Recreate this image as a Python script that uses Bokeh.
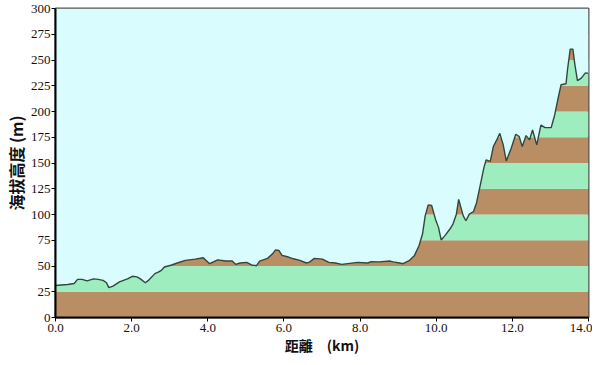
from bokeh.plotting import figure
from bokeh.embed import file_html
from bokeh.resources import INLINE
from bokeh.models import FixedTicker, NumeralTickFormatter, Range1d, ColumnDataSource

# distance (km) and elevation (m) along the route
dist = [0.0, 0.15, 0.32, 0.49, 0.58, 0.70, 0.83, 1.0, 1.12, 1.25, 1.34, 1.40, 1.51, 1.68, 1.89,
        2.02, 2.14, 2.23, 2.36, 2.44, 2.61, 2.70, 2.78, 2.86, 3.03, 3.20, 3.41, 3.67, 3.88, 3.95,
        4.05, 4.26, 4.47, 4.64, 4.73, 4.85, 5.02, 5.15, 5.28, 5.36, 5.57, 5.70, 5.78, 5.87, 5.95,
        6.12, 6.25, 6.42, 6.59, 6.67, 6.80, 7.01, 7.18, 7.35, 7.52, 7.94, 8.20, 8.28, 8.50, 8.79,
        8.87, 9.04, 9.13, 9.30, 9.43, 9.55, 9.64, 9.71, 9.79, 9.88, 9.98, 10.06, 10.13, 10.23,
        10.36, 10.44, 10.53, 10.59, 10.65, 10.71, 10.78, 10.87, 10.98, 11.06, 11.16, 11.25, 11.31,
        11.42, 11.50, 11.59, 11.67, 11.76, 11.84, 11.97, 12.09, 12.18, 12.26, 12.36, 12.45, 12.53,
        12.64, 12.75, 12.86, 13.02, 13.11, 13.19, 13.28, 13.41, 13.45, 13.52, 13.59, 13.64, 13.71,
        13.81, 13.92, 14.0]
elev = [31, 31.5, 32, 33, 37, 37, 35.5, 37.5, 37, 36, 33.7, 29, 30.5, 34.6, 37.5,
        40, 39.4, 37.5, 33.7, 36, 42.6, 44, 45.8, 49, 50.7, 52.9, 55.5, 56.7, 58, 55.5,
        52.2, 56, 54.8, 54.8, 51.6, 52.9, 53.5, 51, 50.3, 54.8, 57.4, 61.8, 65.7, 65, 60.3,
        58.7, 57, 55.5, 52.9, 53.8, 57.4, 56.7, 53.5, 52.9, 51.6, 53.5, 52.9, 54.1, 54, 54.8,
        54, 52.9, 52.2, 55.5, 60.3, 69.9, 81, 98.7, 109.3, 108.7, 95.5, 87.5, 75.3, 79.5,
        85.9, 90.7, 100.3, 114.7, 106.7, 98.7, 93.9, 100.3, 102.9, 111.5, 129, 145, 153,
        151.6, 166, 172.4, 178.8, 167.6, 152, 164.4, 177.9, 175.6, 166, 176.6, 172.4, 182,
        167.6, 186.8, 184.3, 184.3, 196.4, 210.9, 226, 227, 241, 260.6, 260.6, 246, 230,
        232.4, 237.5, 237]

# elevation bands
band_lo = [0, 25, 50, 75, 100, 125, 150, 175, 200, 225, 250]
band_hi = [25, 50, 75, 100, 125, 150, 175, 200, 225, 250, 275]
x_ticks = [0, 2, 4, 6, 8, 10, 12, 14]
y_ticks = [0, 25, 50, 75, 100, 125, 150, 175, 200, 225, 250, 275, 300]

SKY = "#D9FCFE"
BROWN = "#BA8E64"
GREEN = "#9DEDBF"
band_col = [BROWN if i % 2 == 0 else GREEN for i in range(len(band_lo))]

p = figure(width=592, height=357, output_backend="svg", toolbar_location=None,
           x_range=Range1d(0, 14), y_range=Range1d(0, 300),
           min_border_left=30, min_border_right=4, min_border_top=8, min_border_bottom=38)
p.background_fill_color = SKY
p.border_fill_color = "white"
p.outline_line_color = "#555555"
p.outline_line_width = 2
p.xgrid.visible = False
p.ygrid.visible = False

bands = ColumnDataSource(dict(bottom=band_lo, top=band_hi, color=band_col,
                              left=[0] * len(band_lo), right=[14] * len(band_lo)))
p.quad(left="left", right="right", bottom="bottom", top="top", fill_color="color",
       line_color=None, source=bands)

prof = ColumnDataSource(dict(x=dist, y=elev, top=[300] * len(dist)))
p.varea(x="x", y1="y", y2="top", fill_color=SKY, source=prof)
p.line(x="x", y="y", line_color="#34463C", line_width=1.4, source=prof)

tick_font = "Liberation Serif"
for ax in (p.xaxis[0], p.yaxis[0]):
    ax.axis_line_color = "black"
    ax.axis_line_width = 2
    ax.major_tick_line_color = "black"
    ax.major_tick_in = 0
    ax.major_tick_out = 4
    ax.minor_tick_line_color = None
    ax.major_label_text_font = tick_font
    ax.major_label_text_font_size = "13px"
    ax.major_label_text_color = "#111111"
    ax.axis_label_text_font = "Noto Sans CJK TC"
    ax.axis_label_text_font_style = "bold"
    ax.axis_label_text_color = "#111111"

p.xaxis.ticker = FixedTicker(ticks=x_ticks)
p.xaxis.formatter = NumeralTickFormatter(format="0.0")
p.xaxis.axis_label = "距離　(km)"
p.xaxis.axis_label_text_font_size = "14px"
p.xaxis.major_label_standoff = 2
p.xaxis.axis_label_standoff = 0

p.yaxis.ticker = FixedTicker(ticks=y_ticks)
p.yaxis.axis_label = "海拔高度 (m)"
p.yaxis.axis_label_text_font_size = "16px"
p.yaxis.major_label_standoff = 1
p.yaxis.axis_label_standoff = 0

open("out.html", "w").write(file_html(p, INLINE))
